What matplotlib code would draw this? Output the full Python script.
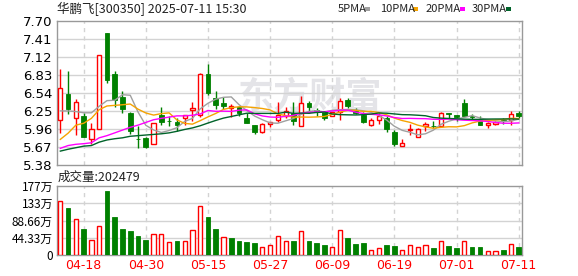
import numpy as np
import matplotlib
matplotlib.use("Agg")
import matplotlib.pyplot as plt
from matplotlib.patches import Rectangle

plt.rcParams['font.family'] = ['Noto Sans CJK SC', 'DejaVu Sans']

# daily k-line, 2025-04-15 .. 2025-07-11 (60 trading days)
opens = [6.107, 6.526, 6.139, 6.16, 5.788, 5.96, 7.514, 6.84, 6.479, 6.224,
         5.80, 5.804, 5.709, 6.176, 6.09, 6.075, 6.139, 6.261, 6.176, 6.84,
         6.463, 6.383, 6.304, 6.309, 6.134, 6.017, 5.91, 6.043, 6.107, 6.16,
         6.213, 6.0, 6.383, 6.26, 6.25, 6.16, 6.24, 6.426, 6.25, 6.187,
         6.027, 6.107, 6.134, 5.905, 5.682, 5.94, 5.831, 6.0, 6.01, 6.011,
         6.224, 6.187, 6.383, 6.17, 6.107, 6.022, 6.043, 6.10, 6.096, 6.224]
highs = [6.925, 6.893, 6.447, 6.213, 6.049, 7.15, 7.514, 6.893, 6.574, 6.23,
         6.0, 5.83, 6.054, 6.309, 6.16, 6.134, 6.18, 6.399, 6.861, 7.01,
         6.574, 6.479, 6.362, 6.33, 6.213, 6.017, 6.049, 6.075, 6.40, 6.32,
         6.40, 6.489, 6.415, 6.293, 6.25, 6.24, 6.463, 6.463, 6.304, 6.24,
         6.134, 6.224, 6.17, 5.948, 5.788, 6.043, 5.975, 6.064, 6.08, 6.24,
         6.224, 6.187, 6.437, 6.193, 6.17, 6.064, 6.08, 6.134, 6.25, 6.25]
lows = [5.895, 6.197, 5.857, 5.83, 5.71, 5.96, 6.70, 6.32, 6.224, 5.879,
        5.656, 5.645, 5.709, 6.017, 6.0, 5.921, 6.017, 6.086, 6.144, 6.50,
        6.277, 6.277, 6.15, 6.16, 6.054, 5.884, 5.895, 5.99, 6.064, 6.134,
        6.017, 6.0, 6.213, 6.17, 6.107, 6.16, 6.107, 6.293, 6.197, 6.054,
        6.0, 6.043, 5.91, 5.682, 5.682, 5.868, 5.831, 5.932, 5.97, 6.011,
        6.128, 6.09, 6.16, 6.107, 6.027, 5.98, 6.022, 6.043, 6.027, 6.134]
closes = [6.622, 6.288, 6.394, 5.83, 5.964, 7.15, 6.744, 6.426, 6.277, 5.921,
          5.79, 5.672, 6.054, 6.07, 6.08, 6.017, 6.176, 6.304, 6.84, 6.532,
          6.346, 6.33, 6.335, 6.213, 6.054, 5.905, 6.033, 6.075, 6.187, 6.25,
          6.091, 6.372, 6.309, 6.25, 6.134, 6.24, 6.415, 6.33, 6.213, 6.064,
          6.107, 6.17, 5.958, 5.709, 5.735, 5.95, 5.964, 6.043, 6.0, 6.213,
          6.197, 6.15, 6.16, 6.15, 6.027, 6.054, 6.064, 6.09, 6.203, 6.17]
# volume in 万手
volume = [139, 121, 92.7, 67, 38.6, 74, 165, 98, 67, 62,
          49, 38.6, 53, 53, 32.7, 36, 36, 63.6, 125, 98,
          67, 45.6, 43.8, 36, 33.5, 31, 19.8, 25, 48, 35.3,
          36, 61, 36, 31, 25.8, 19.8, 63.6, 43.8, 28, 31,
          12, 18, 25.8, 23, 13, 25, 20.6, 25, 19, 36,
          23, 19, 36, 20.6, 20.6, 10.3, 10.3, 13.7, 27.6, 20.2479]
vol_up = [1, 0, 1, 0, 1, 1, 0, 0, 0, 0, 0, 0, 1, 1, 1, 0, 1, 1, 1, 0,
          0, 1, 0, 0, 0, 0, 1, 1, 1, 1, 0, 1, 0, 0, 0, 1, 1, 0, 0, 0,
          1, 1, 0, 0, 1, 1, 1, 1, 0, 1, 0, 0, 1, 0, 0, 1, 1, 0, 1, 0]

# moving-average values at the start of the window (earlier days not shown)
ma5_head = [6.25, 6.25, 6.24, 6.22]
ma10_head = [5.79, 5.89, 6.02, 6.05, 6.13, 6.27, 6.33, 6.34, 6.35]
ma20_head = [5.645, 5.69, 5.71, 5.72, 5.735, 5.815, 5.85, 5.895, 5.94, 5.985,
             6.02, 6.064, 6.107, 6.13, 6.15, 6.17, 6.17, 6.18, 6.20]
ma30_head = [5.60, 5.63, 5.655, 5.68, 5.69, 5.745, 5.78, 5.80, 5.815, 5.84,
             5.85, 5.86, 5.87, 5.88, 5.895, 5.92, 5.95, 5.975, 6.01, 6.054,
             6.096, 6.134, 6.16, 6.187, 6.213, 6.21, 6.21, 6.21, 6.21]

tick_idx = [3, 11, 19, 27, 35, 43, 51, 59]
tick_labels = ['04-18', '04-30', '05-15', '05-27', '06-09', '06-19', '07-01', '07-11']
price_ticks = [5.38, 5.67, 5.96, 6.25, 6.54, 6.83, 7.12, 7.41, 7.70]
vol_ticks = [0, 44.33, 88.66, 133, 177]
vol_tick_labels = ['0', '44.33万', '88.66万', '133万', '177万']

RED = '#ff0000'
GREEN = '#008000'
GRID = '#d3d3d3'
FRAME = '#999999'


def moving_avg(head, n):
    c = np.array(closes)
    out = list(head)
    for i in range(len(head), len(c)):
        out.append(c[i - n + 1:i + 1].mean())
    return np.array(out)


ma_list = [(moving_avg(ma5_head, 5), '#a0a0a0', '5PMA'),
           (moving_avg(ma10_head, 10), '#f5a300', '10PMA'),
           (moving_avg(ma20_head, 20), '#ff00ff', '20PMA'),
           (moving_avg(ma30_head, 30), '#00632a', '30PMA')]

W, H = 578, 276
fig = plt.figure(figsize=(W / 100, H / 100), dpi=100)
ax = fig.add_axes([57 / W, 1 - 164.7 / H, 465.3 / W, 143.4 / H])
axv = fig.add_axes([57 / W, 1 - 255 / H, 465.3 / W, 68.7 / H])

x = np.arange(len(closes))
o = np.array(opens)
c = np.array(closes)
up = c >= o
body_lo = np.minimum(o, c)
body_h = np.maximum(np.abs(c - o), 0.004)

# watermark
ax.text(0.545, 0.47, '东方财富', transform=ax.transAxes, fontsize=26, fontweight='bold',
        color='#e4e4e8', ha='center', va='center', zorder=0)

ax.vlines(x[up], np.array(lows)[up], np.array(highs)[up], color=RED, lw=1, zorder=3)
ax.vlines(x[~up], np.array(lows)[~up], np.array(highs)[~up], color=GREEN, lw=1, zorder=3)
ax.bar(x[up], body_h[up], 0.55, bottom=body_lo[up], facecolor='white', edgecolor=RED, lw=1, zorder=4)
ax.bar(x[~up], body_h[~up], 0.6, bottom=body_lo[~up], facecolor=GREEN, edgecolor=GREEN, lw=0.6, zorder=4)

for vals, col, name in ma_list:
    ax.plot(x, vals, color=col, lw=1, zorder=5)

vu = np.array(vol_up) == 1
vol = np.array(volume)
axv.bar(x[vu], vol[vu], 0.55, facecolor='white', edgecolor=RED, lw=1, zorder=3)
axv.bar(x[~vu], vol[~vu], 0.6, facecolor=GREEN, edgecolor=GREEN, lw=0.6, zorder=3)

for a in (ax, axv):
    a.set_xlim(-0.43, 59.46)
    a.set_xticks(tick_idx)
    for t in tick_idx:
        a.axvline(t, color=GRID, lw=1, ls=(0, (3, 3)), zorder=1)
    for s in a.spines.values():
        s.set_color(FRAME)
        s.set_linewidth(1)
    a.tick_params(length=0, pad=3)

ax.set_ylim(5.38, 7.70)
ax.set_yticks(price_ticks)
ax.set_yticklabels(['%.2f' % p for p in price_ticks], fontsize=9.5, family=['DejaVu Sans'])
for p in price_ticks[1:-1]:
    ax.axhline(p, color=GRID, lw=1, zorder=1)
ax.set_xticklabels([])

axv.set_ylim(0, 177)
axv.set_yticks(vol_ticks)
axv.set_yticklabels(vol_tick_labels, fontsize=8.5)
for v in vol_ticks[1:-1]:
    axv.axhline(v, color=GRID, lw=1, zorder=1)
axv.set_xticklabels(tick_labels, fontsize=9, color=RED, family=['DejaVu Sans'])

fig.text(57 / W, 1 - 9 / H, '华鹏飞[300350] 2025-07-11 15:30', fontsize=9, va='center', color='#222222')
fig.text(58 / W, 1 - 177.5 / H, '成交量:202479', fontsize=9, va='center', color='#222222')

leg_x = [338, 380, 426, 472]
mark_x = [365, 412.5, 460, 505.5]
for (vals, col, name), lx, mx in zip(ma_list, leg_x, mark_x):
    fig.text(lx / W, 1 - 9 / H, name, fontsize=8, va='center', color='#222222')
    fig.patches.append(Rectangle((mx / W, 1 - 10.5 / H), 5 / W, 3 / H, transform=fig.transFigure,
                                 facecolor=col, edgecolor='none'))

fig.savefig('out.png', dpi=100)
